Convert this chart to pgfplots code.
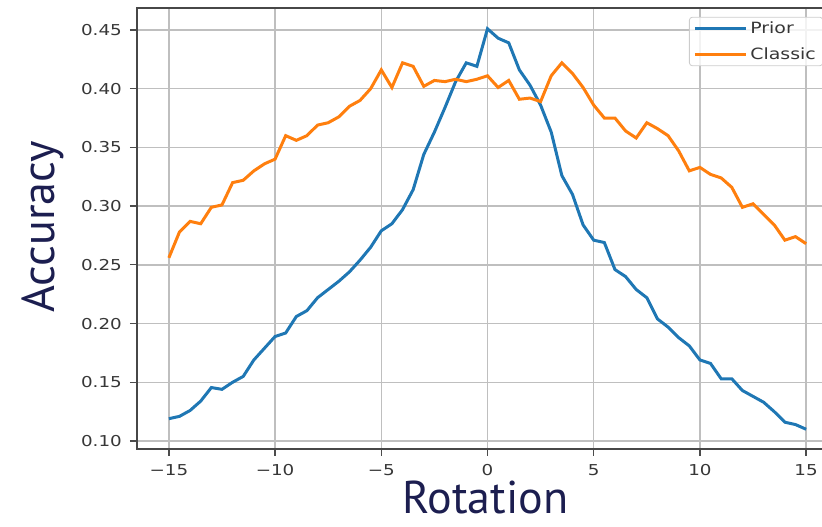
\documentclass[border=0pt]{standalone}
\usepackage{fontspec}
\usepackage{graphicx}
\usepackage{pgfplots}
\pgfplotsset{compat=1.18}
\setmainfont{DejaVu Sans}
\newfontfamily\labelfont{PT Sans}
\definecolor{mplblue}{HTML}{1F77B4}
\definecolor{mplorange}{HTML}{FF7F0E}
\definecolor{navy}{RGB}{28,30,80}
\definecolor{tickgray}{RGB}{55,55,55}
\newcommand\sx[1]{\scalebox{1.22}[1]{#1}}
\begin{document}
\begin{tikzpicture}
\begin{axis}[
  scale only axis,
  width=701pt, height=441pt,
  xmin=-16.5, xmax=16.5,
  ymin=0.0932, ymax=0.4687,
  xtick={-15,-10,-5,0,5,10,15},
  xticklabels={\sx{−15},\sx{−10},\sx{−5},\sx{0},\sx{5},\sx{10},\sx{15}},
  ytick={0.10,0.15,0.20,0.25,0.30,0.35,0.40,0.45},
  yticklabels={\sx{0.10},\sx{0.15},\sx{0.20},\sx{0.25},\sx{0.30},\sx{0.35},\sx{0.40},\sx{0.45}},
  xtick pos=bottom, ytick pos=left,
  tick align=outside,
  major tick length=7pt,
  tick style={draw=black!70, line width=1.3pt},
  axis line style={draw=black!72, line width=1.7pt},
  grid=major,
  major grid style={draw=black!25, line width=1.5pt},
  ticklabel style={font=\fontsize{15}{17}\selectfont, text=tickgray},
  yticklabel style={anchor=east, inner sep=0pt, xshift=-8pt},
  xticklabel style={anchor=north, inner sep=0pt, yshift=-8pt},
  xlabel={Rotation},
  ylabel={Accuracy},
  label style={font=\labelfont\fontsize{46}{48}\selectfont, text=navy, inner sep=0pt},
  xlabel style={at={(axis description cs:0.4971,-0.147)}, anchor=base},
  ylabel style={at={(axis description cs:-0.117,0.504)}, anchor=base},
  legend style={at={(axis description cs:0.7874,0.980)}, anchor=north west,
    draw=black!20, line width=0.8pt, rounded corners=3pt,
    fill=white, fill opacity=0.8, draw opacity=1, text opacity=1,
    font=\fontsize{15.5}{17}\selectfont, text=tickgray,
    inner xsep=4pt, inner ysep=2pt, row sep=6pt,
    nodes={inner sep=3pt}},
  legend cell align=left,
  legend image code/.code={\path (-1pt,0pt) -- (50pt,0pt); \draw[#1] (0pt,0pt) -- (41pt,0pt);},
]
\addplot[mplblue, line width=3pt] coordinates {
(-15,0.119) (-14.5,0.121) (-14,0.126) (-13.5,0.134) (-13,0.1455) (-12.5,0.144)
(-12,0.150) (-11.5,0.155) (-11,0.169) (-10.5,0.179) (-10,0.189) (-9.5,0.192)
(-9,0.206) (-8.5,0.211) (-8,0.222) (-7.5,0.229) (-7,0.236) (-6.5,0.244)
(-6,0.254) (-5.5,0.265) (-5,0.279) (-4.5,0.285) (-4,0.297) (-3.5,0.314)
(-3,0.344) (-2.5,0.363) (-2,0.384) (-1.5,0.406) (-1,0.422) (-0.5,0.419)
(0,0.451) (0.5,0.443) (1,0.439) (1.5,0.416) (2,0.403) (2.5,0.386)
(3,0.363) (3.5,0.326) (4,0.310) (4.5,0.284) (5,0.271) (5.5,0.269)
(6,0.246) (6.5,0.240) (7,0.229) (7.5,0.222) (8,0.204) (8.5,0.197)
(9,0.188) (9.5,0.181) (10,0.169) (10.5,0.166) (11,0.153) (11.5,0.153)
(12,0.143) (12.5,0.138) (13,0.133) (13.5,0.125) (14,0.116) (14.5,0.114) (15,0.110)
};
\addlegendentry{\sx{Prior}}
\addplot[mplorange, line width=3pt] coordinates {
(-15,0.256) (-14.5,0.278) (-14,0.287) (-13.5,0.285) (-13,0.299) (-12.5,0.301)
(-12,0.320) (-11.5,0.322) (-11,0.330) (-10.5,0.336) (-10,0.340) (-9.5,0.360)
(-9,0.356) (-8.5,0.360) (-8,0.369) (-7.5,0.371) (-7,0.376) (-6.5,0.385)
(-6,0.390) (-5.5,0.400) (-5,0.416) (-4.5,0.401) (-4,0.422) (-3.5,0.419)
(-3,0.402) (-2.5,0.407) (-2,0.406) (-1.5,0.408) (-1,0.406) (-0.5,0.408)
(0,0.411) (0.5,0.401) (1,0.407) (1.5,0.391) (2,0.392) (2.5,0.389)
(3,0.411) (3.5,0.422) (4,0.413) (4.5,0.401) (5,0.386) (5.5,0.375)
(6,0.375) (6.5,0.364) (7,0.358) (7.5,0.371) (8,0.366) (8.5,0.360)
(9,0.347) (9.5,0.330) (10,0.333) (10.5,0.327) (11,0.324) (11.5,0.316)
(12,0.299) (12.5,0.302) (13,0.293) (13.5,0.284) (14,0.271) (14.5,0.274) (15,0.268)
};
\addlegendentry{\sx{Classic}}
\end{axis}
\pgfresetboundingbox
\path[use as bounding box] ([shift={(-137pt,-78pt)}]current axis.south west) rectangle ([shift={(685pt,449pt)}]current axis.south west);
\end{tikzpicture}
\end{document}
